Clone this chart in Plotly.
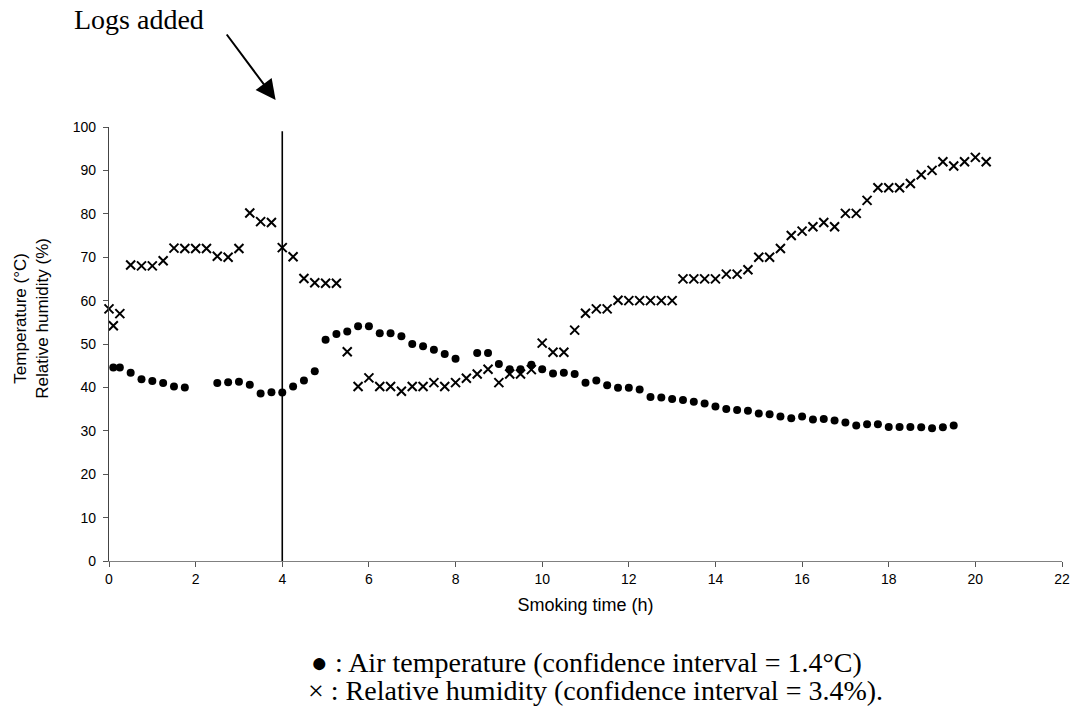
import plotly.graph_objects as go

# Air temperature (°C) vs smoking time (h)
temp_time = [0.1, 0.25, 0.5, 0.75, 1.0, 1.25, 1.5, 1.75,
             2.5, 2.75, 3.0, 3.25, 3.5, 3.75, 4.0, 4.25, 4.5, 4.75,
             5.0, 5.25, 5.5, 5.75, 6.0, 6.25, 6.5, 6.75, 7.0, 7.25, 7.5, 7.75, 8.0,
             8.5, 8.75, 9.0, 9.25, 9.5, 9.75, 10.0, 10.25, 10.5, 10.75, 11.0, 11.25,
             11.5, 11.75, 12.0, 12.25, 12.5, 12.75, 13.0, 13.25, 13.5, 13.75, 14.0,
             14.25, 14.5, 14.75, 15.0, 15.25, 15.5, 15.75, 16.0, 16.25, 16.5, 16.75,
             17.0, 17.25, 17.5, 17.75, 18.0, 18.25, 18.5, 18.75, 19.0, 19.25, 19.5]
temp_value = [44.6, 44.6, 43.4, 41.9, 41.5, 41.0, 40.2, 40.0,
              41.0, 41.2, 41.3, 40.6, 38.6, 38.9, 38.8, 40.2, 41.6, 43.7,
              51.0, 52.3, 52.9, 54.1, 54.1, 52.5, 52.5, 51.8, 50.0, 49.5, 48.7, 47.7, 46.6,
              47.9, 47.9, 45.4, 44.2, 44.2, 45.2, 44.2, 43.2, 43.4, 43.1, 41.1, 41.6,
              40.5, 39.9, 39.9, 39.5, 37.8, 37.7, 37.3, 37.1, 36.7, 36.3, 35.6,
              35.0, 34.8, 34.6, 34.0, 33.8, 33.3, 32.9, 33.3, 32.6, 32.7, 32.4,
              31.9, 31.2, 31.5, 31.5, 30.9, 30.9, 30.9, 30.8, 30.6, 30.8, 31.2]

# Relative humidity (%) vs smoking time (h)
rh_time = [0.0, 0.1, 0.25, 0.5, 0.75, 1.0, 1.25, 1.5, 1.75, 2.0, 2.25, 2.5, 2.75, 3.0,
           3.25, 3.5, 3.75, 4.0, 4.25, 4.5, 4.75, 5.0, 5.25, 5.5, 5.75, 6.0, 6.25,
           6.5, 6.75, 7.0, 7.25, 7.5, 7.75, 8.0, 8.25, 8.5, 8.75, 9.0, 9.25, 9.5,
           9.75, 10.0, 10.25, 10.5, 10.75, 11.0, 11.25, 11.5, 11.75, 12.0, 12.25,
           12.5, 12.75, 13.0, 13.25, 13.5, 13.75, 14.0, 14.25, 14.5, 14.75, 15.0,
           15.25, 15.5, 15.75, 16.0, 16.25, 16.5, 16.75, 17.0, 17.25, 17.5, 17.75,
           18.0, 18.25, 18.5, 18.75, 19.0, 19.25, 19.5, 19.75, 20.0, 20.25]
rh_value = [58.1, 54.2, 57.0, 68.2, 68.0, 68.0, 69.2, 72.1, 72.0, 72.0, 72.0, 70.2, 70.0, 72.0,
            80.2, 78.2, 78.0, 72.2, 70.1, 65.1, 64.1, 64.0, 64.0, 48.2, 40.2, 42.2, 40.2,
            40.2, 39.1, 40.2, 40.2, 41.1, 40.2, 41.1, 42.1, 43.1, 44.2, 41.1, 43.1, 43.1,
            44.1, 50.2, 48.1, 48.1, 53.2, 57.1, 58.1, 58.1, 60.1, 60.0, 60.0,
            60.0, 60.0, 60.0, 65.0, 65.0, 65.0, 65.0, 66.1, 66.1, 67.1, 70.0,
            70.0, 72.0, 75.0, 76.0, 77.0, 78.0, 77.0, 80.1, 80.1, 83.1, 86.0,
            86.0, 86.0, 87.0, 89.0, 90.0, 92.0, 91.0, 92.0, 93.0, 92.0]

x_ticks = [0, 2, 4, 6, 8, 10, 12, 14, 16, 18, 20, 22]
y_ticks = [0, 10, 20, 30, 40, 50, 60, 70, 80, 90, 100]
logs_added_time = 4

W, H = 1080, 710
L, R, T, B = 109, 10, 127, 149
pw, ph = W - L - R, H - T - B


def px(xp):
    return (xp - L) / pw


def py(yp):
    return (H - B - yp) / ph


fig = go.Figure()
fig.add_trace(go.Scatter(
    x=rh_time, y=rh_value, mode="markers",
    marker=dict(symbol="x-thin", size=9, color="black",
                line=dict(color="black", width=2)),
    cliponaxis=False, showlegend=False))
fig.add_trace(go.Scatter(
    x=temp_time, y=temp_value, mode="markers",
    marker=dict(symbol="circle", size=8, color="black", line=dict(width=0)),
    cliponaxis=False, showlegend=False))

fig.add_shape(type="line", x0=logs_added_time, x1=logs_added_time, y0=0, y1=99,
              xref="x", yref="y", line=dict(color="black", width=1.6))

serif = "Liberation Serif, Times New Roman, serif"
sans = "Liberation Sans, Arial, sans-serif"

annotations = [
    dict(text="Logs added", xref="paper", yref="paper", x=px(139), y=py(20),
         showarrow=False, xanchor="center", yanchor="middle",
         font=dict(family=serif, size=28, color="black")),
    dict(text="", xref="paper", yref="paper", x=px(277), y=py(100), ax=-50, ay=-67,
         showarrow=True, arrowhead=2, arrowsize=2, arrowwidth=2, arrowcolor="black"),
    dict(text="Temperature (°C)<br>Relative humidity (%)", xref="paper", yref="paper",
         x=px(30), y=py(318), textangle=-90, showarrow=False,
         xanchor="center", yanchor="middle",
         font=dict(family=sans, size=17, color="black")),
    dict(text="\u25cf : Air temperature (confidence interval = 1.4°C)", xref="paper", yref="paper",
         x=px(311), y=py(662), showarrow=False, xanchor="left", yanchor="middle",
         font=dict(family=serif, size=28, color="black")),
    dict(text="\u00d7 : Relative humidity (confidence interval = 3.4%).", xref="paper", yref="paper",
         x=px(308), y=py(690), showarrow=False, xanchor="left", yanchor="middle",
         font=dict(family=serif, size=28, color="black")),
]

fig.update_layout(
    width=W, height=H,
    margin=dict(l=L, r=R, t=T, b=B, pad=0),
    paper_bgcolor="white", plot_bgcolor="white",
    annotations=annotations,
    font=dict(family=sans, color="black"),
)
fig.update_xaxes(
    range=[0, 22], tickvals=x_ticks, ticktext=[str(v) for v in x_ticks],
    showgrid=False, zeroline=False, showline=True, linecolor="#808080", linewidth=1.2,
    ticks="outside", ticklen=5, tickcolor="#555555", tickwidth=1,
    tickfont=dict(family="Liberation Sans Narrow, Liberation Sans, Arial, sans-serif", size=14),
    title=dict(text="Smoking time (h)", standoff=12,
               font=dict(family=sans, size=18)),
)
fig.update_yaxes(
    range=[0, 100], tickvals=y_ticks, ticktext=[str(v) for v in y_ticks],
    showgrid=False, zeroline=False, showline=True, linecolor="#444444", linewidth=1.2,
    ticks="outside", ticklen=5, tickcolor="#555555", tickwidth=1,
    tickfont=dict(family=sans, size=14),
    ticklabelstandoff=4,
)

fig.write_html("out.html")
